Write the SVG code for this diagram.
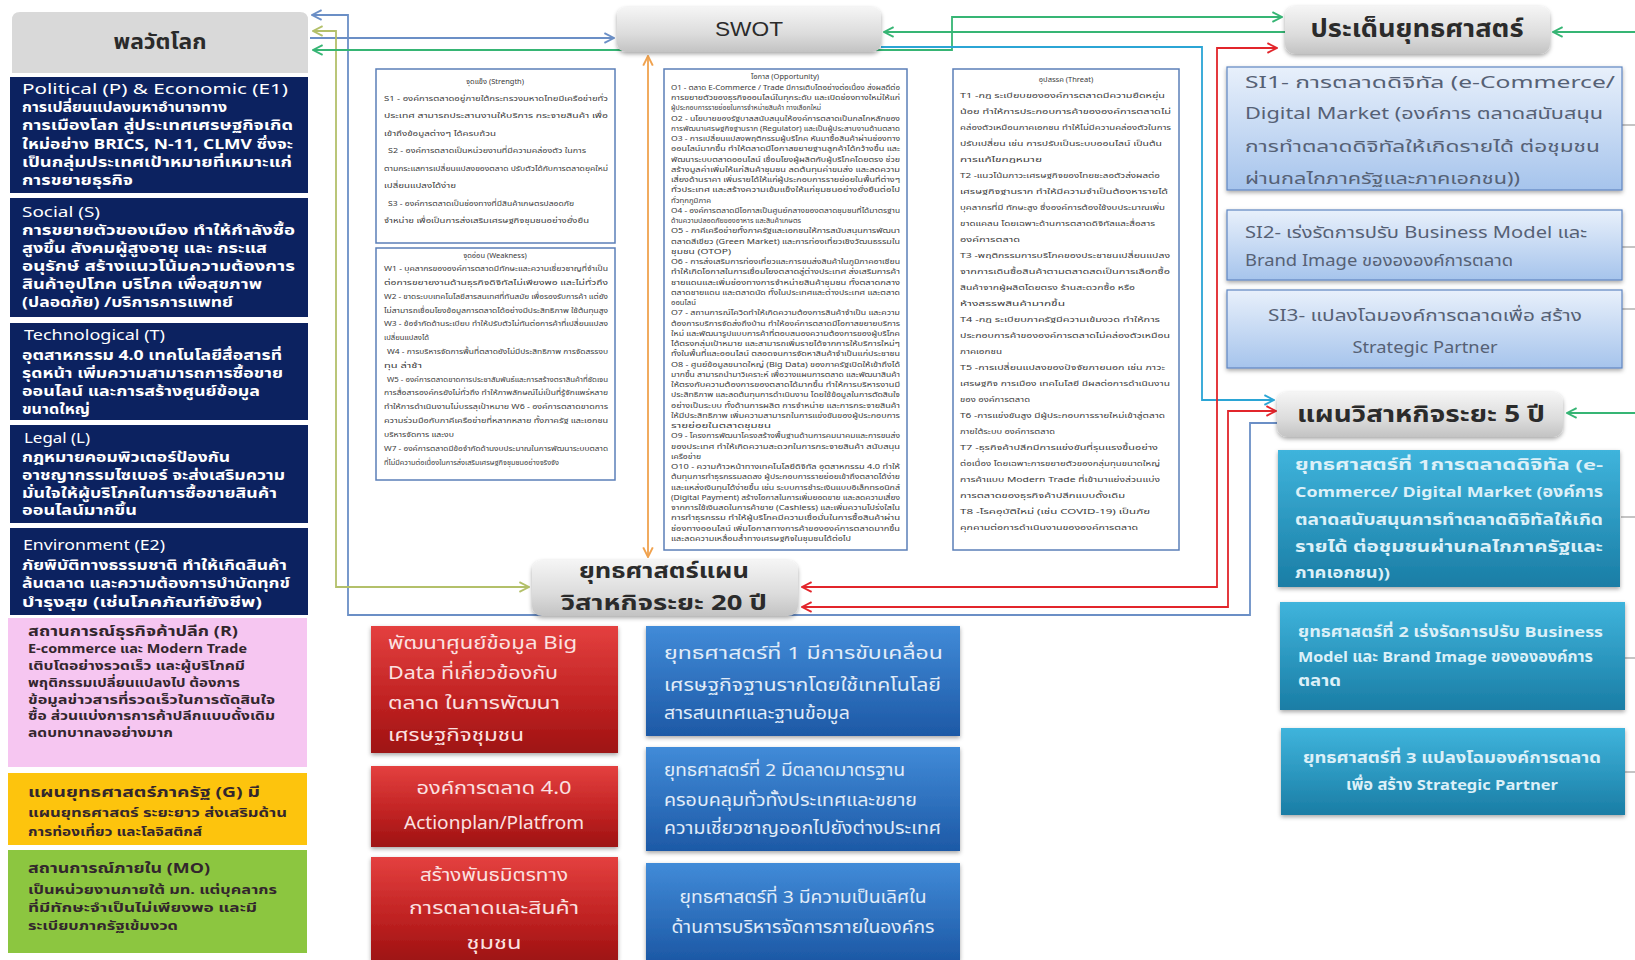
<svg xmlns="http://www.w3.org/2000/svg" width="1635" height="960" viewBox="0 0 1635 960">
<style>
  text { font-family: "Noto Sans Thai", "Tahoma", "DejaVu Sans", "Liberation Sans", sans-serif; }
  .hd { font-weight: bold; fill: #2b2b2b; text-anchor: middle; }
  .pt { fill: #ffffff; font-size: 14px; }
  .pw { fill: #ffffff; font-size: 13.5px; font-weight: bold; }
  .dk { fill: #33262d; font-size: 12.5px; font-weight: bold; }
  .dt { fill: #33262d; font-size: 14px; font-weight: bold; }
  .sw { fill: #3a3a3a; font-size: 7.5px; }
  .op { fill: #3a3a3a; font-size: 7px; }
  .swt { fill: #3a3a3a; font-size: 7.5px; text-anchor: middle; }
  .box { fill: #ffffff; stroke: #5b7fb8; stroke-width: 1.5; }
  .si { fill: #566175; font-size: 16px; }
  .tl { fill: #dcf0f8; font-size: 15px; font-weight: bold; }
  .lt { fill: #fbe1e1; font-size: 18px; }
  .bt { fill: #e1ecf8; font-size: 17px; }
  .mid { text-anchor: middle; }
  .c { fill: none; stroke-width: 1.8; }
  .tick { fill: none; stroke: #8a8a8a; stroke-width: 1.2; }
</style>
<defs>
  <linearGradient id="gHead" x1="0" y1="0" x2="0" y2="1">
    <stop offset="0" stop-color="#f5f5f5"/>
    <stop offset="0.6" stop-color="#dcdcdc"/>
    <stop offset="1" stop-color="#c3c3c3"/>
  </linearGradient>
  <linearGradient id="gSI" x1="0" y1="0" x2="0" y2="1">
    <stop offset="0" stop-color="#e8f0fb"/>
    <stop offset="1" stop-color="#a6c4ec"/>
  </linearGradient>
  <linearGradient id="gTeal" x1="0" y1="0" x2="0" y2="1">
    <stop offset="0" stop-color="#3fb4dc"/>
    <stop offset="1" stop-color="#1a7da5"/>
  </linearGradient>
  <linearGradient id="gRed" x1="0" y1="0" x2="0" y2="1">
    <stop offset="0" stop-color="#e4403f"/>
    <stop offset="0.6" stop-color="#bf2222"/>
    <stop offset="1" stop-color="#9e1212"/>
  </linearGradient>
  <linearGradient id="gBlue" x1="0" y1="0" x2="0" y2="1">
    <stop offset="0" stop-color="#418bd8"/>
    <stop offset="1" stop-color="#1d59a6"/>
  </linearGradient>
  <filter id="shadow" x="-10%" y="-20%" width="120%" height="150%">
    <feDropShadow dx="0" dy="2" stdDeviation="2" flood-color="#000" flood-opacity="0.35"/>
  </filter>
  <marker id="aSteel" viewBox="0 0 10 10" refX="9" refY="5" markerWidth="12" markerHeight="12" markerUnits="userSpaceOnUse" orient="auto-start-reverse">
    <path d="M1,1 L9,5 L1,9" fill="none" stroke="#6b8fc6" stroke-width="1.6"/>
  </marker>
  <marker id="aOlive" viewBox="0 0 10 10" refX="9" refY="5" markerWidth="12" markerHeight="12" markerUnits="userSpaceOnUse" orient="auto-start-reverse">
    <path d="M1,1 L9,5 L1,9" fill="none" stroke="#b3c06a" stroke-width="1.6"/>
  </marker>
  <marker id="aGreen" viewBox="0 0 10 10" refX="9" refY="5" markerWidth="12" markerHeight="12" markerUnits="userSpaceOnUse" orient="auto-start-reverse">
    <path d="M1,1 L9,5 L1,9" fill="none" stroke="#36b574" stroke-width="1.6"/>
  </marker>
  <marker id="aCyan" viewBox="0 0 10 10" refX="9" refY="5" markerWidth="12" markerHeight="12" markerUnits="userSpaceOnUse" orient="auto-start-reverse">
    <path d="M1,1 L9,5 L1,9" fill="none" stroke="#2ba5d5" stroke-width="1.6"/>
  </marker>
  <marker id="aRed" viewBox="0 0 10 10" refX="9" refY="5" markerWidth="12" markerHeight="12" markerUnits="userSpaceOnUse" orient="auto-start-reverse">
    <path d="M1,1 L9,5 L1,9" fill="none" stroke="#e2252b" stroke-width="1.6"/>
  </marker>
  <marker id="aOrange" viewBox="0 0 10 10" refX="9" refY="5" markerWidth="12" markerHeight="12" markerUnits="userSpaceOnUse" orient="auto-start-reverse">
    <path d="M1,1 L9,5 L1,9" fill="none" stroke="#f0a24e" stroke-width="1.6"/>
  </marker>
</defs>

<rect width="1635" height="960" fill="#ffffff"/>

<!-- connectors -->
<g id="connectors">
  <path class="c" stroke="#6b8fc6" d="M1277,423 H1250 V615 H348 V15 H312" marker-end="url(#aSteel)"/>
  <path class="c" stroke="#6b8fc6" d="M310,38 H614" marker-end="url(#aSteel)"/>
  <path class="c" stroke="#b3c06a" d="M313,31 H336 V587 H529" marker-start="url(#aOlive)" marker-end="url(#aOlive)"/>
  <path class="c" stroke="#36b574" d="M313,50 H952 V17 H1282" marker-start="url(#aGreen)" marker-end="url(#aGreen)"/>
  <path class="c" stroke="#36b574" d="M1287,32 H884" marker-end="url(#aGreen)"/>
  <path class="c" stroke="#36b574" d="M1635,32 H1553" marker-end="url(#aGreen)"/>
  <path class="c" stroke="#36b574" d="M1635,413 H1567" marker-end="url(#aGreen)"/>
  <path class="c" stroke="#2ba5d5" d="M881,47 H1202 V400 H1274" marker-end="url(#aCyan)"/>
  <path class="c" stroke="#e2252b" d="M1277,48 H1217 V587 H802" marker-start="url(#aRed)" marker-end="url(#aRed)"/>
  <path class="c" stroke="#e2252b" d="M1276,411 H1228 V607 H802" marker-start="url(#aRed)" marker-end="url(#aRed)"/>
  <path class="c" stroke="#f0a24e" d="M648,56 V557" marker-start="url(#aOrange)" marker-end="url(#aOrange)"/>
  <path class="tick" d="M1622,125 H1635 M1622,247 H1635 M1622,309 H1635 M1621,517 H1635 M1625,658 H1635 M1625,772 H1635"/>
</g>

<!-- left column: global dynamics -->
<g id="global-header">
  <path d="M12,73 V20 Q12,12 20,12 H300 Q308,12 308,20 V73 Z" fill="#d9d9d9"/>
  <text class="hd" x="160" y="49" font-size="21" textLength="93" lengthAdjust="spacingAndGlyphs">พลวัตโลก</text>
</g>

<g id="political">
  <rect x="10" y="77" width="298" height="116" fill="#0c2260"/>
  <text class="pt" x="22" y="94" textLength="266" lengthAdjust="spacingAndGlyphs">Political (P) &amp; Economic (E1)</text>
  <text class="pw" x="22" y="112" textLength="205" lengthAdjust="spacingAndGlyphs">การเปลี่ยนแปลงมหาอำนาจทาง</text>
  <text class="pw" x="22" y="130" textLength="271" lengthAdjust="spacingAndGlyphs">การเมืองโลก สู่ประเทศเศรษฐกิจเกิด</text>
  <text class="pw" x="22" y="149" textLength="271" lengthAdjust="spacingAndGlyphs">ใหม่อย่าง BRICS, N-11, CLMV ซึ่งจะ</text>
  <text class="pw" x="22" y="167" textLength="270" lengthAdjust="spacingAndGlyphs">เป็นกลุ่มประเทศเป้าหมายที่เหมาะแก่</text>
  <text class="pw" x="22" y="185" textLength="111" lengthAdjust="spacingAndGlyphs">การขยายธุรกิจ</text>
</g>

<g id="social">
  <rect x="10" y="198" width="298" height="119" fill="#0c2260"/>
  <text class="pt" x="22" y="217" textLength="78" lengthAdjust="spacingAndGlyphs">Social (S)</text>
  <text class="pw" x="22" y="235" textLength="273" lengthAdjust="spacingAndGlyphs">การขยายตัวของเมือง ทำให้กำลังซื้อ</text>
  <text class="pw" x="22" y="253" textLength="245" lengthAdjust="spacingAndGlyphs">สูงขึ้น สังคมผู้สูงอายุ และ กระแส</text>
  <text class="pw" x="22" y="271" textLength="273" lengthAdjust="spacingAndGlyphs">อนุรักษ์  สร้างแนวโน้มความต้องการ</text>
  <text class="pw" x="22" y="289" textLength="240" lengthAdjust="spacingAndGlyphs">สินค้าอุปโภค บริโภค เพื่อสุขภาพ</text>
  <text class="pw" x="22" y="307" textLength="211" lengthAdjust="spacingAndGlyphs">(ปลอดภัย) /บริการการแพทย์</text>
</g>

<g id="technological">
  <rect x="10" y="323" width="298" height="97" fill="#0c2260"/>
  <text class="pt" x="24" y="340" textLength="141" lengthAdjust="spacingAndGlyphs">Technological (T)</text>
  <text class="pw" x="22" y="360" textLength="260" lengthAdjust="spacingAndGlyphs">อุตสาหกรรม 4.0 เทคโนโลยีสื่อสารที่</text>
  <text class="pw" x="22" y="378" textLength="261" lengthAdjust="spacingAndGlyphs">รุดหน้า เพิ่มความสามารถการซื้อขาย</text>
  <text class="pw" x="22" y="396" textLength="238" lengthAdjust="spacingAndGlyphs">ออนไลน์ และการสร้างศูนย์ข้อมูล</text>
  <text class="pw" x="22" y="414" textLength="68" lengthAdjust="spacingAndGlyphs">ขนาดใหญ่</text>
</g>

<g id="legal">
  <rect x="10" y="425" width="298" height="98" fill="#0c2260"/>
  <text class="pt" x="24" y="443" textLength="66" lengthAdjust="spacingAndGlyphs">Legal  (L)</text>
  <text class="pw" x="22" y="462" textLength="208" lengthAdjust="spacingAndGlyphs">กฎหมายคอมพิวเตอร์ป้องกัน</text>
  <text class="pw" x="22" y="480" textLength="263" lengthAdjust="spacingAndGlyphs">อาชญากรรมไซเบอร์ จะส่งเสริมความ</text>
  <text class="pw" x="22" y="498" textLength="255" lengthAdjust="spacingAndGlyphs">มั่นใจให้ผู้บริโภคในการซื้อขายสินค้า</text>
  <text class="pw" x="22" y="515" textLength="115" lengthAdjust="spacingAndGlyphs">ออนไลน์มากขึ้น</text>
</g>

<g id="environment">
  <rect x="10" y="528" width="298" height="87" fill="#0c2260"/>
  <text class="pt" x="23" y="550" textLength="142" lengthAdjust="spacingAndGlyphs">Environment  (E2)</text>
  <text class="pw" x="22" y="570" textLength="265" lengthAdjust="spacingAndGlyphs">ภัยพิบัติทางธรรมชาติ ทำให้เกิดสินค้า</text>
  <text class="pw" x="22" y="588" textLength="268" lengthAdjust="spacingAndGlyphs">ล้นตลาด และความต้องการบำบัดทุกข์</text>
  <text class="pw" x="22" y="607" textLength="240" lengthAdjust="spacingAndGlyphs">บำรุงสุข (เช่นโภคภัณฑ์ยังชีพ)</text>
</g>

<g id="retail">
  <rect x="8" y="618" width="299" height="149" fill="#f6c6f1"/>
  <text class="dt" x="28" y="636" textLength="210" lengthAdjust="spacingAndGlyphs">สถานการณ์ธุรกิจค้าปลีก (R)</text>
  <text class="dk" x="28" y="653" textLength="219" lengthAdjust="spacingAndGlyphs">E-commerce และ Modern Trade</text>
  <text class="dk" x="28" y="670" textLength="217" lengthAdjust="spacingAndGlyphs">เติบโตอย่างรวดเร็ว และผู้บริโภคมี</text>
  <text class="dk" x="28" y="687" textLength="212" lengthAdjust="spacingAndGlyphs">พฤติกรรมเปลี่ยนแปลงไป ต้องการ</text>
  <text class="dk" x="28" y="704" textLength="247" lengthAdjust="spacingAndGlyphs">ข้อมูลข่าวสารที่รวดเร็วในการตัดสินใจ</text>
  <text class="dk" x="28" y="720" textLength="247" lengthAdjust="spacingAndGlyphs">ซื้อ ส่วนแบ่งการการค้าปลีกแบบดั้งเดิม</text>
  <text class="dk" x="28" y="737" textLength="145" lengthAdjust="spacingAndGlyphs">ลดบทบาทลงอย่างมาก</text>
</g>

<g id="government">
  <rect x="8" y="773" width="299" height="72" fill="#fdc40d"/>
  <text class="dt" x="28" y="797" textLength="232" lengthAdjust="spacingAndGlyphs">แผนยุทธศาสตร์ภาครัฐ (G) มี</text>
  <text class="dk" x="28" y="817" textLength="259" lengthAdjust="spacingAndGlyphs">แผนยุทธศาสตร์ ระยะยาว ส่งเสริมด้าน</text>
  <text class="dk" x="28" y="836" textLength="174" lengthAdjust="spacingAndGlyphs">การท่องเที่ยว และโลจิสติกส์</text>
</g>

<g id="internal">
  <rect x="8" y="850" width="299" height="103" fill="#8cc640"/>
  <text class="dt" x="28" y="873" textLength="182" lengthAdjust="spacingAndGlyphs">สถานการณ์ภายใน (MO)</text>
  <text class="dk" x="28" y="894" textLength="249" lengthAdjust="spacingAndGlyphs">เป็นหน่วยงานภายใต้ มท. แต่บุคลากร</text>
  <text class="dk" x="28" y="912" textLength="229" lengthAdjust="spacingAndGlyphs">ที่มีทักษะจำเป็นไม่เพียงพอ และมี</text>
  <text class="dk" x="28" y="930" textLength="150" lengthAdjust="spacingAndGlyphs">ระเบียบภาครัฐเข้มงวด</text>
</g>

<!-- SWOT header -->
<g id="swot">
  <rect x="617" y="7" width="264" height="45" rx="9" fill="url(#gHead)" filter="url(#shadow)"/>
  <text x="749" y="36" font-size="21" fill="#2b2b2b" text-anchor="middle" textLength="68" lengthAdjust="spacingAndGlyphs" style="font-family:'Liberation Sans',Arial,sans-serif">SWOT</text>
</g>

<!-- strengths -->
<g id="strength">
  <rect class="box" x="376" y="69" width="239" height="174"/>
  <text class="swt" x="495" y="84">จุดแข็ง (Strength)</text>
  <text class="sw" x="384" y="101" textLength="224" lengthAdjust="spacingAndGlyphs">S1 - องค์การตลาดอยู่ภายใต้กระทรวงมหาดไทยมีเครือข่ายทั่ว</text>
  <text class="sw" x="384" y="118" textLength="224" lengthAdjust="spacingAndGlyphs">ประเทศ สามารถประสานงานให้บริการ กระจายสินค้า เพื่อ</text>
  <text class="sw" x="384" y="136" textLength="112" lengthAdjust="spacingAndGlyphs">เข้าถึงข้อมูลต่างๆ ได้ครบถ้วน</text>
  <text class="sw" x="388" y="153" textLength="198" lengthAdjust="spacingAndGlyphs">S2 - องค์การตลาดเป็นหน่วยงานที่มีความคล่องตัว ในการ</text>
  <text class="sw" x="384" y="171" textLength="224" lengthAdjust="spacingAndGlyphs">ตามกระแสการเปลี่ยนแปลงของตลาด ปรับตัวได้กับการตลาดยุคใหม่</text>
  <text class="sw" x="384" y="188" textLength="72" lengthAdjust="spacingAndGlyphs">เปลี่ยนแปลงได้ง่าย</text>
  <text class="sw" x="388" y="206" textLength="186" lengthAdjust="spacingAndGlyphs">S3 - องค์การตลาดเป็นช่องทางที่มีสินค้าเกษตรปลอดภัย</text>
  <text class="sw" x="384" y="223" textLength="205" lengthAdjust="spacingAndGlyphs">จำหน่าย เพื่อเป็นการส่งเสริมเศรษฐกิจชุมชนอย่างยั่งยืน</text>
</g>

<!-- weaknesses -->
<g id="weakness">
  <rect class="box" x="376" y="248" width="239" height="232"/>
  <text class="swt" x="495" y="258">จุดอ่อน (Weakness)</text>
  <text class="sw" x="384" y="271" textLength="224" lengthAdjust="spacingAndGlyphs">W1 - บุคลากรขององค์การตลาดมีทักษะและความเชี่ยวชาญที่จำเป็น</text>
  <text class="sw" x="384" y="285" textLength="224" lengthAdjust="spacingAndGlyphs">ต่อการขยายงานด้านธุรกิจดิจิทัลไม่เพียงพอ และไม่ทั่วถึง</text>
  <text class="sw" x="384" y="299" textLength="224" lengthAdjust="spacingAndGlyphs">W2 - ขาดระบบเทคโนโลยีสารสนเทศที่ทันสมัย เพื่อรองรับการค้า แต่ยัง</text>
  <text class="sw" x="384" y="313" textLength="224" lengthAdjust="spacingAndGlyphs">ไม่สามารถเชื่อมโยงข้อมูลการตลาดได้อย่างมีประสิทธิภาพ ใช้ต้นทุนสูง</text>
  <text class="sw" x="384" y="326" textLength="224" lengthAdjust="spacingAndGlyphs">W3 - ข้อจำกัดด้านระเบียบ ทำให้ปรับตัวไม่ทันต่อการค้าที่เปลี่ยนแปลง</text>
  <text class="sw" x="384" y="340" textLength="45" lengthAdjust="spacingAndGlyphs">เปลี่ยนแปลงได้</text>
  <text class="sw" x="387" y="354" textLength="221" lengthAdjust="spacingAndGlyphs">W4 - การบริหารจัดการพื้นที่ตลาดยังไม่มีประสิทธิภาพ การจัดสรรงบ</text>
  <text class="sw" x="384" y="368" textLength="38" lengthAdjust="spacingAndGlyphs">ทุน ล่าช้า</text>
  <text class="sw" x="387" y="382" textLength="221" lengthAdjust="spacingAndGlyphs">W5 - องค์การตลาดขาดการประชาสัมพันธ์และการสร้างตราสินค้าที่ชัดเจน</text>
  <text class="sw" x="384" y="395" textLength="224" lengthAdjust="spacingAndGlyphs">การสื่อสารองค์กรยังไม่ทั่วถึง ทำให้ภาพลักษณ์ไม่เป็นที่รู้จักแพร่หลาย</text>
  <text class="sw" x="384" y="409" textLength="224" lengthAdjust="spacingAndGlyphs">ทำให้การดำเนินงานไม่บรรลุเป้าหมาย W6 - องค์การตลาดขาดการ</text>
  <text class="sw" x="384" y="423" textLength="224" lengthAdjust="spacingAndGlyphs">ความร่วมมือกับภาคีเครือข่ายที่หลากหลาย ทั้งภาครัฐ และเอกชน</text>
  <text class="sw" x="384" y="437" textLength="70" lengthAdjust="spacingAndGlyphs">บริหารจัดการ และงบ</text>
  <text class="sw" x="384" y="451" textLength="224" lengthAdjust="spacingAndGlyphs">W7 - องค์การตลาดมีข้อจำกัดด้านงบประมาณในการพัฒนาระบบตลาด</text>
  <text class="sw" x="384" y="465" textLength="175" lengthAdjust="spacingAndGlyphs">ที่ไม่มีความต่อเนื่องในการส่งเสริมเศรษฐกิจชุมชนอย่างจริงจัง</text>
</g>

<!-- opportunities -->
<g id="opportunity">
  <rect class="box" x="664" y="69" width="243" height="481"/>
  <text class="swt" x="785" y="79" font-size="7">โอกาส (Opportunity)</text>
  <text class="op" x="671" y="90" textLength="229" lengthAdjust="spacingAndGlyphs">O1 - ตลาด E-Commerce / Trade มีการเติบโตอย่างต่อเนื่อง ส่งผลดีต่อ</text>
  <text class="op" x="671" y="100" textLength="229" lengthAdjust="spacingAndGlyphs">การขยายตัวของธุรกิจออนไลน์ในทุกระดับ และเปิดช่องทางใหม่ให้แก่</text>
  <text class="op" x="671" y="110" textLength="150" lengthAdjust="spacingAndGlyphs">ผู้ประกอบการรายย่อยในการจำหน่ายสินค้า ทางเลือกใหม่</text>
  <text class="op" x="671" y="121" textLength="229" lengthAdjust="spacingAndGlyphs">O2 - นโยบายของรัฐบาลสนับสนุนให้องค์การตลาดเป็นกลไกหลักของ</text>
  <text class="op" x="671" y="131" textLength="229" lengthAdjust="spacingAndGlyphs">การพัฒนาเศรษฐกิจฐานราก (Regulator) และเป็นผู้ประสานงานด้านตลาด</text>
  <text class="op" x="671" y="141" textLength="229" lengthAdjust="spacingAndGlyphs">O3 - การเปลี่ยนแปลงพฤติกรรมผู้บริโภค หันมาซื้อสินค้าผ่านช่องทาง</text>
  <text class="op" x="671" y="151" textLength="229" lengthAdjust="spacingAndGlyphs">ออนไลน์มากขึ้น ทำให้ตลาดมีโอกาสขยายฐานลูกค้าได้กว้างขึ้น และ</text>
  <text class="op" x="671" y="162" textLength="229" lengthAdjust="spacingAndGlyphs">พัฒนาระบบตลาดออนไลน์ เชื่อมโยงผู้ผลิตกับผู้บริโภคโดยตรง ช่วย</text>
  <text class="op" x="671" y="172" textLength="229" lengthAdjust="spacingAndGlyphs">สร้างมูลค่าเพิ่มให้แก่สินค้าชุมชน ลดต้นทุนค่าขนส่ง และลดความ</text>
  <text class="op" x="671" y="182" textLength="229" lengthAdjust="spacingAndGlyphs">เสี่ยงด้านราคา เพิ่มรายได้ให้แก่ผู้ประกอบการรายย่อยในพื้นที่ต่างๆ</text>
  <text class="op" x="671" y="192" textLength="229" lengthAdjust="spacingAndGlyphs">ทั่วประเทศ และสร้างความเข้มแข็งให้แก่ชุมชนอย่างยั่งยืนต่อไป</text>
  <text class="op" x="671" y="203" textLength="40" lengthAdjust="spacingAndGlyphs">ทั่วทุกภูมิภาค</text>
  <text class="op" x="671" y="213" textLength="229" lengthAdjust="spacingAndGlyphs">O4 - องค์การตลาดมีโอกาสเป็นศูนย์กลางของตลาดชุมชนที่ได้มาตรฐาน</text>
  <text class="op" x="671" y="223" textLength="130" lengthAdjust="spacingAndGlyphs">ด้านความปลอดภัยของอาหาร และสินค้าเกษตร</text>
  <text class="op" x="671" y="233" textLength="229" lengthAdjust="spacingAndGlyphs">O5 - ภาคีเครือข่ายทั้งภาครัฐและเอกชนให้การสนับสนุนการพัฒนา</text>
  <text class="op" x="671" y="244" textLength="229" lengthAdjust="spacingAndGlyphs">ตลาดสีเขียว (Green Market) และการท่องเที่ยวเชิงวัฒนธรรมใน</text>
  <text class="op" x="671" y="254" textLength="60" lengthAdjust="spacingAndGlyphs">ชุมชน (OTOP)</text>
  <text class="op" x="671" y="264" textLength="229" lengthAdjust="spacingAndGlyphs">O6 - การส่งเสริมการท่องเที่ยวและการขนส่งสินค้าในภูมิภาคอาเซียน</text>
  <text class="op" x="671" y="274" textLength="229" lengthAdjust="spacingAndGlyphs">ทำให้เกิดโอกาสในการเชื่อมโยงตลาดสู่ต่างประเทศ ส่งเสริมการค้า</text>
  <text class="op" x="671" y="285" textLength="229" lengthAdjust="spacingAndGlyphs">ชายแดนและเพิ่มช่องทางการจำหน่ายสินค้าชุมชน ทั้งตลาดกลาง</text>
  <text class="op" x="671" y="295" textLength="229" lengthAdjust="spacingAndGlyphs">ตลาดชายแดน และตลาดนัด ทั้งในประเทศและต่างประเทศ และตลาด</text>
  <text class="op" x="671" y="305" textLength="25" lengthAdjust="spacingAndGlyphs">ออนไลน์</text>
  <text class="op" x="671" y="315" textLength="229" lengthAdjust="spacingAndGlyphs">O7 - สถานการณ์โควิดทำให้เกิดความต้องการสินค้าจำเป็น และความ</text>
  <text class="op" x="671" y="326" textLength="229" lengthAdjust="spacingAndGlyphs">ต้องการบริการจัดส่งถึงบ้าน ทำให้องค์การตลาดมีโอกาสขยายบริการ</text>
  <text class="op" x="671" y="336" textLength="229" lengthAdjust="spacingAndGlyphs">ใหม่ และพัฒนารูปแบบการค้าที่ตอบสนองความต้องการของผู้บริโภค</text>
  <text class="op" x="671" y="346" textLength="229" lengthAdjust="spacingAndGlyphs">ได้ตรงกลุ่มเป้าหมาย และสามารถเพิ่มรายได้จากการให้บริการใหม่ๆ</text>
  <text class="op" x="671" y="356" textLength="229" lengthAdjust="spacingAndGlyphs">ทั้งในพื้นที่และออนไลน์ ตลอดจนการจัดหาสินค้าจำเป็นแก่ประชาชน</text>
  <text class="op" x="671" y="367" textLength="229" lengthAdjust="spacingAndGlyphs">O8 - ศูนย์ข้อมูลขนาดใหญ่ (Big Data) ของภาครัฐเปิดให้เข้าถึงได้</text>
  <text class="op" x="671" y="377" textLength="229" lengthAdjust="spacingAndGlyphs">มากขึ้น สามารถนำมาวิเคราะห์ เพื่อวางแผนการตลาด และพัฒนาสินค้า</text>
  <text class="op" x="671" y="387" textLength="229" lengthAdjust="spacingAndGlyphs">ให้ตรงกับความต้องการของตลาดได้มากขึ้น ทำให้การบริหารงานมี</text>
  <text class="op" x="671" y="397" textLength="229" lengthAdjust="spacingAndGlyphs">ประสิทธิภาพ และลดต้นทุนการดำเนินงาน โดยใช้ข้อมูลในการตัดสินใจ</text>
  <text class="op" x="671" y="408" textLength="229" lengthAdjust="spacingAndGlyphs">อย่างเป็นระบบ ทั้งด้านการผลิต การจำหน่าย และการกระจายสินค้า</text>
  <text class="op" x="671" y="418" textLength="229" lengthAdjust="spacingAndGlyphs">ให้มีประสิทธิภาพ เพิ่มความสามารถในการแข่งขันของผู้ประกอบการ</text>
  <text class="op" x="671" y="428" textLength="100" lengthAdjust="spacingAndGlyphs">รายย่อยในตลาดชุมชน</text>
  <text class="op" x="671" y="438" textLength="229" lengthAdjust="spacingAndGlyphs">O9 - โครงการพัฒนาโครงสร้างพื้นฐานด้านการคมนาคมและการขนส่ง</text>
  <text class="op" x="671" y="449" textLength="229" lengthAdjust="spacingAndGlyphs">ของประเทศ ทำให้เกิดความสะดวกในการกระจายสินค้า สนับสนุน</text>
  <text class="op" x="671" y="459" textLength="30" lengthAdjust="spacingAndGlyphs">เครือข่าย</text>
  <text class="op" x="671" y="469" textLength="229" lengthAdjust="spacingAndGlyphs">O10 - ความก้าวหน้าทางเทคโนโลยีดิจิทัล อุตสาหกรรม 4.0 ทำให้</text>
  <text class="op" x="671" y="479" textLength="229" lengthAdjust="spacingAndGlyphs">ต้นทุนการทำธุรกรรมลดลง ผู้ประกอบการรายย่อยเข้าถึงตลาดได้ง่าย</text>
  <text class="op" x="671" y="490" textLength="229" lengthAdjust="spacingAndGlyphs">และแหล่งเงินทุนได้ง่ายขึ้น เช่น ระบบการชำระเงินแบบอิเล็กทรอนิกส์</text>
  <text class="op" x="671" y="500" textLength="229" lengthAdjust="spacingAndGlyphs">(Digital Payment) สร้างโอกาสในการเพิ่มยอดขาย และลดความเสี่ยง</text>
  <text class="op" x="671" y="510" textLength="229" lengthAdjust="spacingAndGlyphs">จากการใช้เงินสดในการค้าขาย (Cashless) และเพิ่มความโปร่งใสใน</text>
  <text class="op" x="671" y="520" textLength="229" lengthAdjust="spacingAndGlyphs">การทำธุรกรรม ทำให้ผู้บริโภคมีความเชื่อมั่นในการซื้อสินค้าผ่าน</text>
  <text class="op" x="671" y="531" textLength="229" lengthAdjust="spacingAndGlyphs">ช่องทางออนไลน์ เพิ่มโอกาสทางการค้าขององค์การตลาดมากขึ้น</text>
  <text class="op" x="671" y="541" textLength="180" lengthAdjust="spacingAndGlyphs">และลดความเหลื่อมล้ำทางเศรษฐกิจในชุมชนได้ต่อไป</text>
</g>

<!-- threats -->
<g id="threat">
  <rect class="box" x="953" y="69" width="226" height="481"/>
  <text class="swt" x="1066" y="82">อุปสรรค (Threat)</text>
  <text class="sw" x="960" y="98" textLength="205" lengthAdjust="spacingAndGlyphs">T1 -กฎ ระเบียบขององค์การตลาดมีความยืดหยุ่น</text>
  <text class="sw" x="960" y="114" textLength="211" lengthAdjust="spacingAndGlyphs">น้อย ทำให้การประกอบการค้าขององค์การตลาดไม่</text>
  <text class="sw" x="960" y="130" textLength="211" lengthAdjust="spacingAndGlyphs">คล่องตัวเหมือนภาคเอกชน ทำให้ไม่มีความคล่องตัวในการ</text>
  <text class="sw" x="960" y="146" textLength="202" lengthAdjust="spacingAndGlyphs">ปรับเปลี่ยน เช่น การปรับเป็นระบบออนไลน์ เป็นต้น</text>
  <text class="sw" x="960" y="162" textLength="82" lengthAdjust="spacingAndGlyphs">การแก้ไขกฎหมาย</text>
  <text class="sw" x="960" y="178" textLength="200" lengthAdjust="spacingAndGlyphs">T2 -แนวโน้มภาวะเศรษฐกิจของไทยชะลอตัวส่งผลต่อ</text>
  <text class="sw" x="960" y="194" textLength="208" lengthAdjust="spacingAndGlyphs">เศรษฐกิจฐานราก ทำให้มีความจำเป็นต้องหารายได้</text>
  <text class="sw" x="960" y="210" textLength="205" lengthAdjust="spacingAndGlyphs">บุคลากรที่มี ทักษะสูง ซึ่งองค์การต้องใช้งบประมาณเพิ่ม</text>
  <text class="sw" x="960" y="226" textLength="195" lengthAdjust="spacingAndGlyphs">ขาดแคลน โดยเฉพาะด้านการตลาดดิจิทัลและสื่อสาร</text>
  <text class="sw" x="960" y="242" textLength="60" lengthAdjust="spacingAndGlyphs">องค์การตลาด</text>
  <text class="sw" x="960" y="258" textLength="210" lengthAdjust="spacingAndGlyphs">T3 -พฤติกรรมการบริโภคของประชาชนเปลี่ยนแปลง</text>
  <text class="sw" x="960" y="274" textLength="210" lengthAdjust="spacingAndGlyphs">จากการเดินซื้อสินค้าตามตลาดสดเป็นการเลือกซื้อ</text>
  <text class="sw" x="960" y="290" textLength="175" lengthAdjust="spacingAndGlyphs">สินค้าจากผู้ผลิตโดยตรง ร้านสะดวกซื้อ หรือ</text>
  <text class="sw" x="960" y="306" textLength="105" lengthAdjust="spacingAndGlyphs">ห้างสรรพสินค้ามากขึ้น</text>
  <text class="sw" x="960" y="322" textLength="200" lengthAdjust="spacingAndGlyphs">T4 -กฎ ระเบียบภาครัฐมีความเข้มงวด ทำให้การ</text>
  <text class="sw" x="960" y="338" textLength="210" lengthAdjust="spacingAndGlyphs">ประกอบการค้าขององค์การตลาดไม่คล่องตัวเหมือน</text>
  <text class="sw" x="960" y="354" textLength="42" lengthAdjust="spacingAndGlyphs">ภาคเอกชน</text>
  <text class="sw" x="960" y="370" textLength="205" lengthAdjust="spacingAndGlyphs">T5 -การเปลี่ยนแปลงของปัจจัยภายนอก เช่น ภาวะ</text>
  <text class="sw" x="960" y="386" textLength="210" lengthAdjust="spacingAndGlyphs">เศรษฐกิจ การเมือง เทคโนโลยี มีผลต่อการดำเนินงาน</text>
  <text class="sw" x="960" y="402" textLength="70" lengthAdjust="spacingAndGlyphs">ของ องค์การตลาด</text>
  <text class="sw" x="960" y="418" textLength="205" lengthAdjust="spacingAndGlyphs">T6 -การแข่งขันสูง มีผู้ประกอบการรายใหม่เข้าสู่ตลาด</text>
  <text class="sw" x="960" y="434" textLength="95" lengthAdjust="spacingAndGlyphs">ภายใต้ระบบ องค์การตลาด</text>
  <text class="sw" x="960" y="450" textLength="198" lengthAdjust="spacingAndGlyphs">T7 -ธุรกิจค้าปลีกมีการแข่งขันที่รุนแรงขึ้นอย่าง</text>
  <text class="sw" x="960" y="466" textLength="200" lengthAdjust="spacingAndGlyphs">ต่อเนื่อง โดยเฉพาะการขยายตัวของกลุ่มทุนขนาดใหญ่</text>
  <text class="sw" x="960" y="482" textLength="200" lengthAdjust="spacingAndGlyphs">การค้าแบบ Modern Trade ที่เข้ามาแย่งส่วนแบ่ง</text>
  <text class="sw" x="960" y="498" textLength="165" lengthAdjust="spacingAndGlyphs">การตลาดของธุรกิจค้าปลีกแบบดั้งเดิม</text>
  <text class="sw" x="960" y="514" textLength="190" lengthAdjust="spacingAndGlyphs">T8 -โรคอุบัติใหม่ (เช่น COVID-19) เป็นภัย</text>
  <text class="sw" x="960" y="530" textLength="178" lengthAdjust="spacingAndGlyphs">คุกคามต่อการดำเนินงานขององค์การตลาด</text>
</g>

<!-- 20-year enterprise strategy -->
<g id="plan20">
  <rect x="532" y="560" width="266" height="56" rx="10" fill="url(#gHead)" filter="url(#shadow)"/>
  <text class="hd" x="664" y="578" font-size="21" textLength="170" lengthAdjust="spacingAndGlyphs">ยุทธศาสตร์แผน</text>
  <text class="hd" x="664" y="610" font-size="21" textLength="206" lengthAdjust="spacingAndGlyphs">วิสาหกิจระยะ 20 ปี</text>
</g>

<g id="bigdata">
  <rect x="371" y="626" width="247" height="127" fill="url(#gRed)" filter="url(#shadow)"/>
  <text class="lt" x="388" y="649" textLength="189" lengthAdjust="spacingAndGlyphs">พัฒนาศูนย์ข้อมูล Big</text>
  <text class="lt" x="388" y="679" textLength="170" lengthAdjust="spacingAndGlyphs">Data ที่เกี่ยวข้องกับ</text>
  <text class="lt" x="388" y="709" textLength="172" lengthAdjust="spacingAndGlyphs">ตลาด ในการพัฒนา</text>
  <text class="lt" x="388" y="741" textLength="136" lengthAdjust="spacingAndGlyphs">เศรษฐกิจชุมชน</text>
</g>

<g id="market40">
  <rect x="371" y="766" width="247" height="81" fill="url(#gRed)" filter="url(#shadow)"/>
  <text class="lt mid" x="494" y="794" textLength="155" lengthAdjust="spacingAndGlyphs">องค์การตลาด 4.0</text>
  <text class="lt mid" x="494" y="829" textLength="180" lengthAdjust="spacingAndGlyphs">Actionplan/Platfrom</text>
</g>

<g id="partnership">
  <rect x="371" y="857" width="247" height="103" fill="url(#gRed)" filter="url(#shadow)"/>
  <text class="lt mid" x="494" y="881" textLength="148" lengthAdjust="spacingAndGlyphs">สร้างพันธมิตรทาง</text>
  <text class="lt mid" x="494" y="914" textLength="170" lengthAdjust="spacingAndGlyphs">การตลาดและสินค้า</text>
  <text class="lt mid" x="494" y="949" textLength="55" lengthAdjust="spacingAndGlyphs">ชุมชน</text>
</g>

<g id="strategy20-1">
  <rect x="646" y="626" width="314" height="110" fill="url(#gBlue)" filter="url(#shadow)"/>
  <text class="bt" x="664" y="659" textLength="279" lengthAdjust="spacingAndGlyphs">ยุทธศาสตร์ที่ 1 มีการขับเคลื่อน</text>
  <text class="bt" x="664" y="691" textLength="277" lengthAdjust="spacingAndGlyphs">เศรษฐกิจฐานรากโดยใช้เทคโนโลยี</text>
  <text class="bt" x="664" y="719" textLength="186" lengthAdjust="spacingAndGlyphs">สารสนเทศและฐานข้อมูล</text>
</g>

<g id="strategy20-2">
  <rect x="646" y="747" width="314" height="104" fill="url(#gBlue)" filter="url(#shadow)"/>
  <text class="bt" x="664" y="776" textLength="241" lengthAdjust="spacingAndGlyphs">ยุทธศาสตร์ที่ 2 มีตลาดมาตรฐาน</text>
  <text class="bt" x="664" y="806" textLength="253" lengthAdjust="spacingAndGlyphs">ครอบคลุมทั่วทั้งประเทศและขยาย</text>
  <text class="bt" x="664" y="834" textLength="277" lengthAdjust="spacingAndGlyphs">ความเชี่ยวชาญออกไปยังต่างประเทศ</text>
</g>

<g id="strategy20-3">
  <rect x="646" y="863" width="314" height="97" fill="url(#gBlue)" filter="url(#shadow)"/>
  <text class="bt mid" x="803" y="903" textLength="247" lengthAdjust="spacingAndGlyphs">ยุทธศาสตร์ที่ 3 มีความเป็นเลิศใน</text>
  <text class="bt mid" x="803" y="933" textLength="263" lengthAdjust="spacingAndGlyphs">ด้านการบริหารจัดการภายในองค์กร</text>
</g>

<!-- strategic issues -->
<g id="issues-header">
  <rect x="1285" y="6" width="265" height="48" rx="10" fill="url(#gHead)" filter="url(#shadow)"/>
  <text class="hd" x="1417" y="37" font-size="24" textLength="213" lengthAdjust="spacingAndGlyphs">ประเด็นยุทธศาสตร์</text>
</g>

<g id="si1">
  <rect x="1227" y="67" width="395" height="123" fill="url(#gSI)" stroke="#5f86c2" stroke-width="1.2" filter="url(#shadow)"/>
  <text class="si" x="1245" y="88" textLength="370" lengthAdjust="spacingAndGlyphs">SI1-    การตลาดดิจิทัล  (e-Commerce/</text>
  <text class="si" x="1245" y="119" textLength="358" lengthAdjust="spacingAndGlyphs">Digital  Market  (องค์การ ตลาดสนับสนุน</text>
  <text class="si" x="1245" y="152" textLength="355" lengthAdjust="spacingAndGlyphs">การทำตลาดดิจิทัลให้เกิดรายได้ ต่อชุมชน</text>
  <text class="si" x="1245" y="184" textLength="275" lengthAdjust="spacingAndGlyphs">ผ่านกลไกภาครัฐและภาคเอกชน))</text>
</g>

<g id="si2">
  <rect x="1227" y="210" width="395" height="70" fill="url(#gSI)" stroke="#5f86c2" stroke-width="1.2" filter="url(#shadow)"/>
  <text class="si" x="1245" y="238" textLength="342" lengthAdjust="spacingAndGlyphs">SI2- เร่งรัดการปรับ Business Model  และ</text>
  <text class="si" x="1245" y="266" textLength="268" lengthAdjust="spacingAndGlyphs">Brand  Image  ของององค์การตลาด</text>
</g>

<g id="si3">
  <rect x="1227" y="290" width="395" height="78" fill="url(#gSI)" stroke="#5f86c2" stroke-width="1.2" filter="url(#shadow)"/>
  <text class="si mid" x="1425" y="321" textLength="314" lengthAdjust="spacingAndGlyphs">SI3- แปลงโฉมองค์การตลาดเพื่อ สร้าง</text>
  <text class="si mid" x="1425" y="353" textLength="145" lengthAdjust="spacingAndGlyphs">Strategic  Partner</text>
</g>

<!-- 5-year enterprise plan -->
<g id="plan5-header">
  <rect x="1277" y="392" width="286" height="45" rx="10" fill="url(#gHead)" filter="url(#shadow)"/>
  <text class="hd" x="1421" y="422" font-size="23" textLength="248" lengthAdjust="spacingAndGlyphs">แผนวิสาหกิจระยะ 5 ปี</text>
</g>

<g id="plan5-1">
  <rect x="1278" y="450" width="342" height="137" fill="url(#gTeal)" filter="url(#shadow)"/>
  <text class="tl" x="1295" y="470" textLength="308" lengthAdjust="spacingAndGlyphs">ยุทธศาสตร์ที่  1การตลาดดิจิทัล (e-</text>
  <text class="tl" x="1295" y="497" textLength="308" lengthAdjust="spacingAndGlyphs">Commerce/  Digital  Market  (องค์การ</text>
  <text class="tl" x="1295" y="525" textLength="308" lengthAdjust="spacingAndGlyphs">ตลาดสนับสนุนการทำตลาดดิจิทัลให้เกิด</text>
  <text class="tl" x="1295" y="552" textLength="308" lengthAdjust="spacingAndGlyphs">รายได้ ต่อชุมชนผ่านกลไกภาครัฐและ</text>
  <text class="tl" x="1295" y="578" textLength="95" lengthAdjust="spacingAndGlyphs">ภาคเอกชน))</text>
</g>

<g id="plan5-2">
  <rect x="1280" y="602" width="345" height="108" fill="url(#gTeal)" filter="url(#shadow)"/>
  <text class="tl" x="1298" y="637" textLength="305" lengthAdjust="spacingAndGlyphs">ยุทธศาสตร์ที่ 2 เร่งรัดการปรับ Business</text>
  <text class="tl" x="1298" y="662" textLength="295" lengthAdjust="spacingAndGlyphs">Model และ Brand Image ของององค์การ</text>
  <text class="tl" x="1298" y="686" textLength="43" lengthAdjust="spacingAndGlyphs">ตลาด</text>
</g>

<g id="plan5-3">
  <rect x="1281" y="728" width="344" height="87" fill="url(#gTeal)" filter="url(#shadow)"/>
  <text class="tl mid" x="1452" y="763" textLength="298" lengthAdjust="spacingAndGlyphs">ยุทธศาสตร์ที่ 3 แปลงโฉมองค์การตลาด</text>
  <text class="tl mid" x="1452" y="790" textLength="212" lengthAdjust="spacingAndGlyphs">เพื่อ สร้าง Strategic Partner</text>
</g>
</svg>
